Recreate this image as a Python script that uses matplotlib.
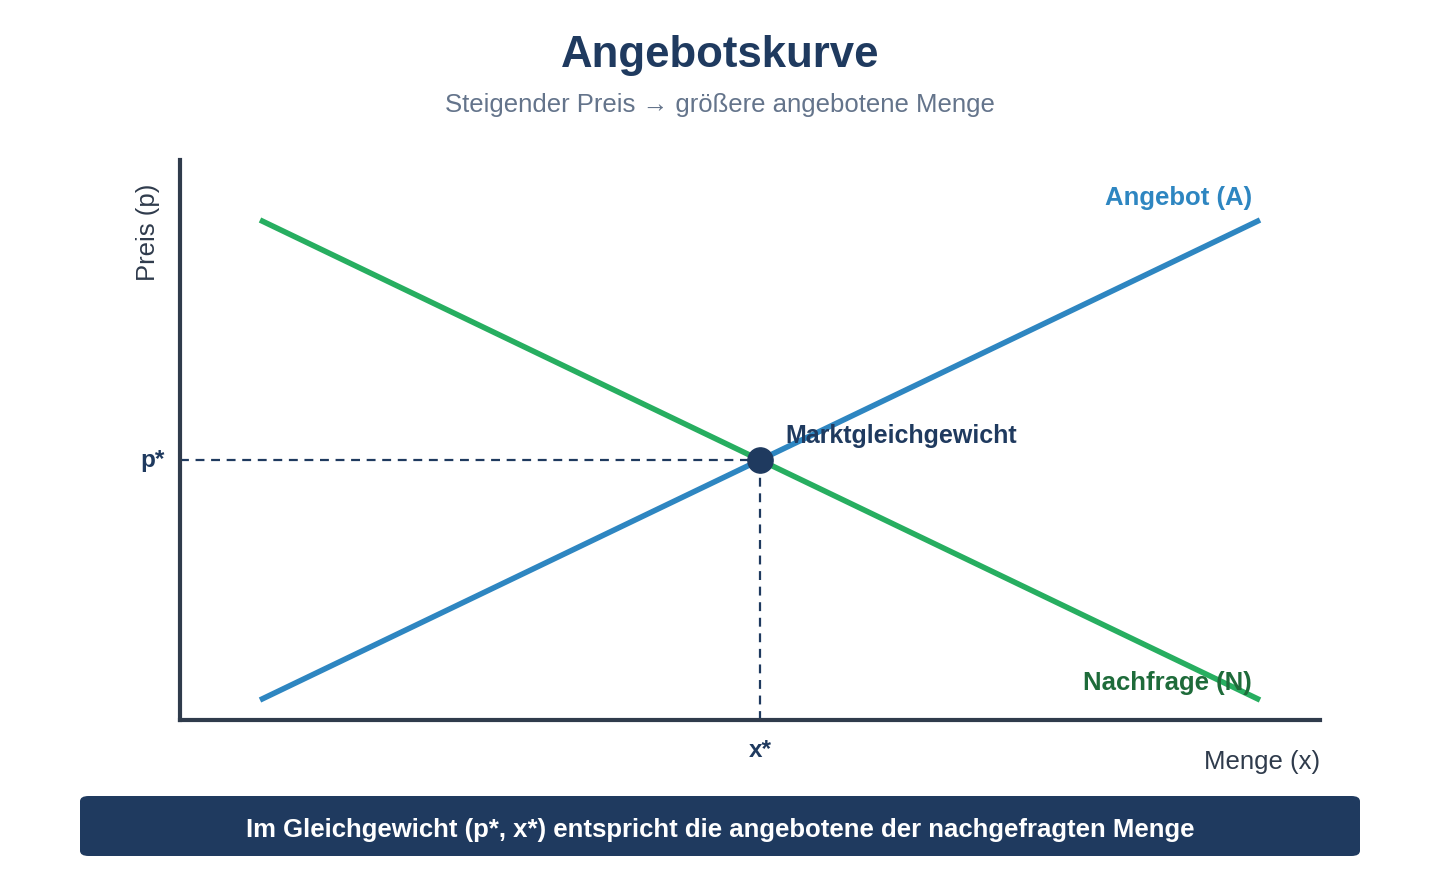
import matplotlib
matplotlib.use('Agg')
import matplotlib.pyplot as plt
from matplotlib.patches import FancyBboxPatch

plt.rcParams['font.family'] = ['Liberation Sans', 'DejaVu Sans']

# Daten (Menge x, Preis p)
menge = [0.8, 10.8]
angebot = [0.2, 5.0]
nachfrage = [5.0, 0.2]
x_stern = 5.8
p_stern = 2.6

title = 'Angebotskurve'
subtitle = 'Steigender Preis \u2192 größere angebotene Menge'
banner_text = 'Im Gleichgewicht (p*, x*) entspricht die angebotene der nachgefragten Menge'

c_dark = '#1f3a5f'
c_axis = '#2f3b4c'
c_blue = '#2e86c1'
c_green = '#27ae60'
c_green_dark = '#1e6b3a'
c_gray = '#64748b'

fig = plt.figure(figsize=(14.4, 8.8), dpi=100)
ax = fig.add_axes([180 / 1440, 160 / 880, 1140 / 1440, 560 / 880])
ax.set_xlim(0, 11.4)
ax.set_ylim(0, 5.6)

for s in ['top', 'right']:
    ax.spines[s].set_visible(False)
for s in ['left', 'bottom']:
    ax.spines[s].set_color(c_axis)
    ax.spines[s].set_linewidth(3)
ax.set_xticks([])
ax.set_yticks([])

# Hilfslinien
ax.plot([0, x_stern], [p_stern, p_stern], ls=(0, (4, 3)), color=c_dark, lw=1.6)
ax.plot([x_stern, x_stern], [0, p_stern], ls=(0, (4, 3)), color=c_dark, lw=1.6)

# Kurven
ax.plot(menge, nachfrage, color=c_green, lw=4, solid_capstyle='butt')
ax.plot(menge, angebot, color=c_blue, lw=4, solid_capstyle='butt')
ax.scatter([x_stern], [p_stern], s=330, color=c_dark, zorder=5)

ax.text(10.72, 5.1, 'Angebot (A)', color=c_blue, fontsize=18.5, fontweight='bold',
        ha='right', va='bottom')
ax.text(10.72, 0.25, 'Nachfrage (N)', color=c_green_dark, fontsize=18.5, fontweight='bold',
        ha='right', va='bottom')
ax.text(6.05, 2.84, 'Marktgleichgewicht', color=c_dark, fontsize=18, fontweight='bold',
        ha='left', va='center')

ax.text(-0.15, p_stern, 'p*', color=c_dark, fontsize=17.5, fontweight='bold',
        ha='right', va='center')
ax.text(x_stern, -0.3, 'x*', color=c_dark, fontsize=17.5, fontweight='bold',
        ha='center', va='center')

fig.text(1320 / 1440, 1 - 762 / 880, 'Menge (x)', color=c_axis, fontsize=18.5,
         ha='right', va='center')
fig.text(148 / 1440, 1 - 232 / 880, 'Preis (p)', color=c_axis, fontsize=18.5,
         ha='center', va='center', rotation=90)

fig.text(0.5, 1 - 56 / 880, title, color=c_dark, fontsize=31.5, fontweight='bold',
         ha='center', va='center')
fig.text(0.5, 1 - 105 / 880, subtitle, color=c_gray, fontsize=18.5,
         ha='center', va='center')

# Banner unten
box = FancyBboxPatch((80 / 1440, 1 - 856 / 880), 1280 / 1440, 60 / 880,
                     boxstyle='round,pad=0,rounding_size=0.006',
                     transform=fig.transFigure, facecolor=c_dark, edgecolor='none')
fig.patches.append(box)
fig.text(0.5, 1 - 830 / 880, banner_text, color='white', fontsize=18.5,
         fontweight='bold', ha='center', va='center')

fig.savefig('out.png', dpi=100)
